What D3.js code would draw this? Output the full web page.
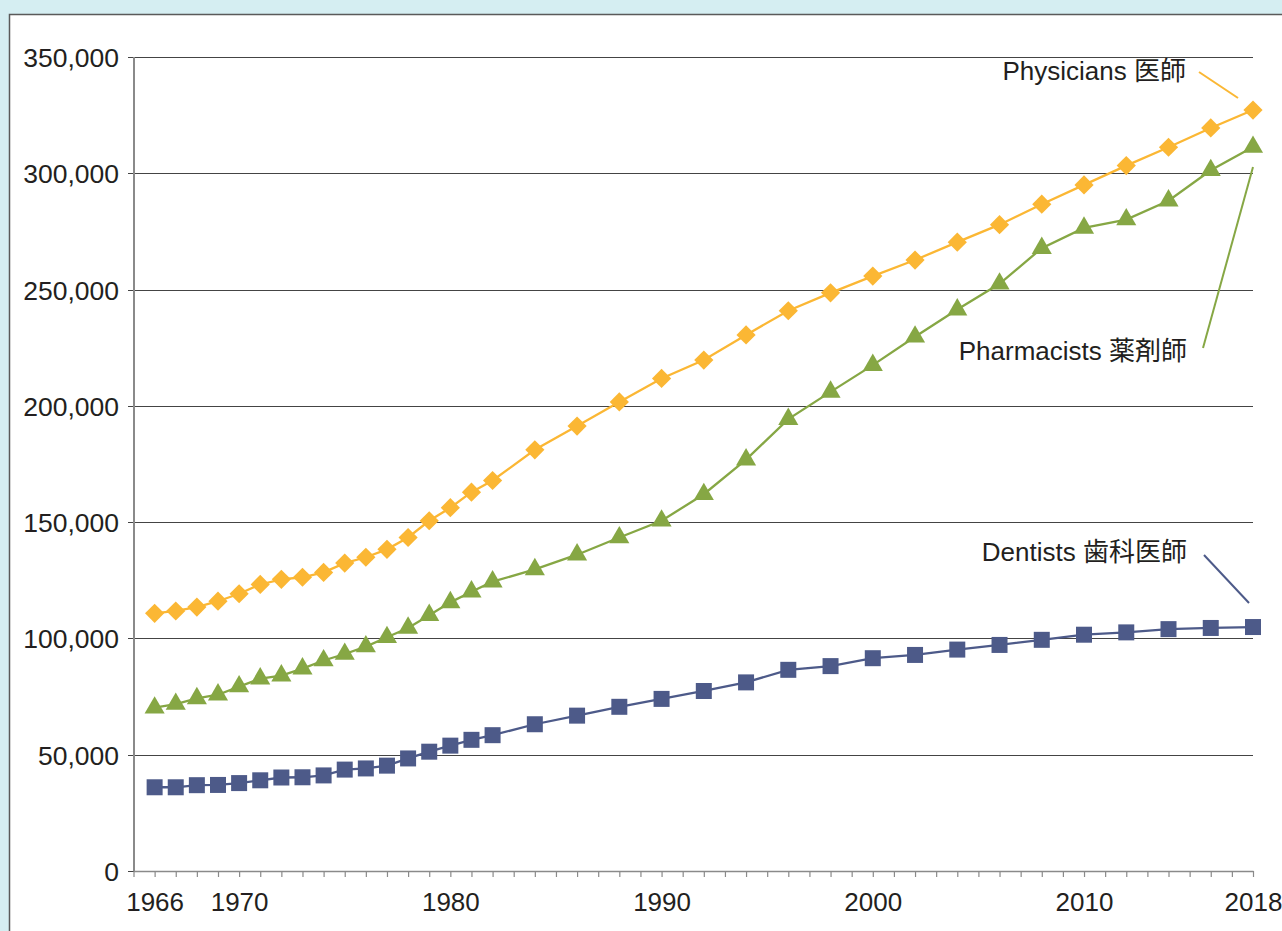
<!DOCTYPE html>
<html>
<head>
<meta charset="utf-8">
<script src="https://cdn.jsdelivr.net/npm/d3@7"></script>
<style>
  html, body { margin: 0; padding: 0; background: #d5eef2; }
  svg { display: block; }
  text { font-family: "Liberation Sans", Arial, "Noto Sans CJK JP", sans-serif; fill: #231f20; }
</style>
</head>
<body>
<svg id="chart" width="1282" height="931"></svg>
<script>
// ---- data ----
const years = [1966,1967,1968,1969,1970,1971,1972,1973,1974,1975,1976,1977,1978,1979,1980,1981,1982,
  1984,1986,1988,1990,1992,1994,1996,1998,2000,2002,2004,2006,2008,2010,2012,2014,2016,2018];
const physicians = [110800,111800,113500,116000,119200,123200,125400,126300,128400,132400,134900,138300,143400,150600,156200,162900,167900,
  181100,191300,201700,211800,219700,230500,240900,248600,255800,262700,270400,277900,286700,295000,303300,311200,319500,327200];
const pharmacists = [70200,71800,74200,75800,79300,82700,84000,87000,90500,93300,96500,100500,104500,110000,115500,120100,124400,
  129700,136000,143400,150600,162000,176900,194300,206000,217500,229700,241400,252500,267800,276500,280100,288200,301300,311300];
const dentists = [36000,36000,36900,37000,37800,39000,40200,40300,41100,43600,44100,45300,48400,51300,53900,56400,58400,
  63100,66800,70600,74000,77400,81100,86500,88100,91500,92900,95200,97200,99400,101600,102600,104000,104500,104900];
const yTicks = [0,50000,100000,150000,200000,250000,300000,350000];
const xLabelYears = [1966,1970,1980,1990,2000,2010,2018];
const seriesNames = ["Physicians 医師", "Pharmacists 薬剤師", "Dentists 歯科医師"];
const seriesColors = ["#fbb734", "#86a744", "#4d5a89"];

// ---- layout ----
const svg = d3.select("#chart");
svg.append("rect").attr("x", 9.5).attr("y", 14.5).attr("width", 1400).attr("height", 1000)
  .attr("fill", "#fff").attr("stroke", "#5a5a5a").attr("stroke-width", 1.5);

const x = d3.scaleLinear().domain([1965, 2018]).range([133.5, 1253]);
const y = d3.scaleLinear().domain([0, 350000]).range([871, 57]);

// gridlines (y axis ticks)
const yAxis = d3.axisLeft(y).tickValues(yTicks).tickSize(-(1253 - 128)).tickSizeOuter(0)
  .tickFormat(d3.format(","));
const gy = svg.append("g").attr("transform", "translate(128,0)").call(yAxis);
gy.select(".domain").remove();
gy.selectAll(".tick line").attr("stroke", "#444").attr("stroke-width", 1.1)
  .attr("shape-rendering", "crispEdges");
gy.selectAll(".tick text").attr("x", -9).attr("dy", "0.36em")
  .style("font-size", "26.5px").attr("fill", "#231f20");

// x axis with yearly ticks
const xAxis = d3.axisBottom(x).tickValues(d3.range(1965, 2019)).tickSize(6).tickSizeOuter(0)
  .tickFormat(d => xLabelYears.includes(d) ? d : "");
const gx = svg.append("g").attr("transform", "translate(0,871)").call(xAxis);
gx.select(".domain").attr("stroke", "#8a8a8a").attr("stroke-width", 1.5);
gx.selectAll(".tick line").attr("stroke", "#8a8a8a").attr("stroke-width", 1.2);
gx.selectAll(".tick text").attr("y", 22).attr("dy", "0.71em").style("font-size", "26px").attr("fill", "#231f20");

// y axis line
svg.append("line").attr("x1", 134).attr("x2", 134).attr("y1", 57).attr("y2", 871)
  .attr("stroke", "#8a8a8a").attr("stroke-width", 2);

// ---- series ----
const allSeries = [physicians, pharmacists, dentists];
const line = d3.line().x(d => x(d[0])).y(d => y(d[1]));
const symbols = [d3.symbolDiamond2, d3.symbolTriangle, d3.symbolSquare];
const symSizes = [235, 175, 256];

allSeries.forEach((vals, i) => {
  const pts = years.map((yr, k) => [yr, vals[k]]);
  svg.append("path").datum(pts).attr("d", line).attr("fill", "none")
    .attr("stroke", seriesColors[i]).attr("stroke-width", 2.3);
  const g = svg.append("g");
  g.selectAll("path").data(pts).join("path")
    .attr("transform", d => `translate(${x(d[0])},${y(d[1])})`)
    .attr("d", d3.symbol().type(symbols[i]).size(symSizes[i]))
    .attr("fill", seriesColors[i]);
});

// ---- callout labels ----
const labels = [
  { text: seriesNames[0], tx: 1186, ty: 80, l: [1199, 72, 1238, 98] },
  { text: seriesNames[1], tx: 1187, ty: 360, l: [1203, 348, 1253, 167] },
  { text: seriesNames[2], tx: 1187, ty: 561, l: [1204, 555, 1249, 603] }
];
labels.forEach((d, i) => {
  svg.append("text").attr("x", d.tx).attr("y", d.ty).attr("text-anchor", "end")
    .style("font-size", "26px").text(d.text);
  svg.append("line").attr("x1", d.l[0]).attr("y1", d.l[1]).attr("x2", d.l[2]).attr("y2", d.l[3])
    .attr("stroke", seriesColors[i]).attr("stroke-width", 2);
});
</script>
</body>
</html>
